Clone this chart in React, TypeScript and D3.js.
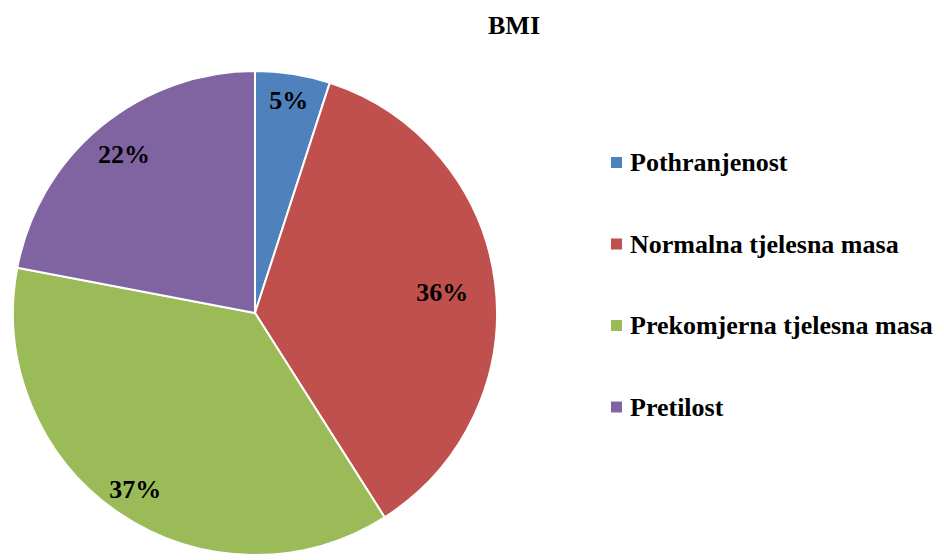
import React from 'react';
import * as d3 from 'd3';

const categories = ['Pothranjenost', 'Normalna tjelesna masa', 'Prekomjerna tjelesna masa', 'Pretilost'];
const values = [5, 36, 37, 22];
const colors = ['#4F81BD', '#C0504D', '#9BBB59', '#8064A2'];
const chartTitle = 'BMI';

// label distance from centre as fraction of radius
const labelRadius = [0.89, 0.78, 0.88, 0.85];

export default function App() {
  const width = 944;
  const height = 560;
  const cx = 255;
  const cy = 313;
  const r = 242;

  const pie = d3.pie<number>().sort(null).value((d) => d);
  const arcs = pie(values);
  const arc = d3.arc<d3.PieArcDatum<number>>().innerRadius(0).outerRadius(r);

  const font = 'Liberation Serif, Times New Roman, serif';

  return (
    <svg
      width={width}
      height={height}
      style={{ position: 'absolute', left: 0, top: 0, background: '#fff' }}
    >
      <text x={514} y={34} textAnchor='middle' fontFamily={font} fontWeight='bold' fontSize={26}>
        {chartTitle}
      </text>
      <g transform={`translate(${cx},${cy})`}>
        {arcs.map((a, i) => (
          <path key={i} d={arc(a) || ''} fill={colors[i]} stroke='#fff' strokeWidth={2} />
        ))}
        {arcs.map((a, i) => {
          const lr = r * labelRadius[i];
          const [x, y] = d3.arc<d3.PieArcDatum<number>>().innerRadius(lr).outerRadius(lr).centroid(a);
          return (
            <text
              key={i}
              x={x}
              y={y + (i === 1 ? 3 : 0)}
              textAnchor='middle'
              dominantBaseline='central'
              fontFamily={font}
              fontWeight='bold'
              fontSize={26}
            >
              {`${values[i]}%`}
            </text>
          );
        })}
      </g>
      {categories.map((c, i) => (
        <g key={c} transform={`translate(611,${162 + i * 81.5})`}>
          <rect x={0} y={-5} width={11} height={11} fill={colors[i]} />
          <text x={19} y={9} fontFamily={font} fontWeight='bold' fontSize={26}>
            {c}
          </text>
        </g>
      ))}
    </svg>
  );
}
